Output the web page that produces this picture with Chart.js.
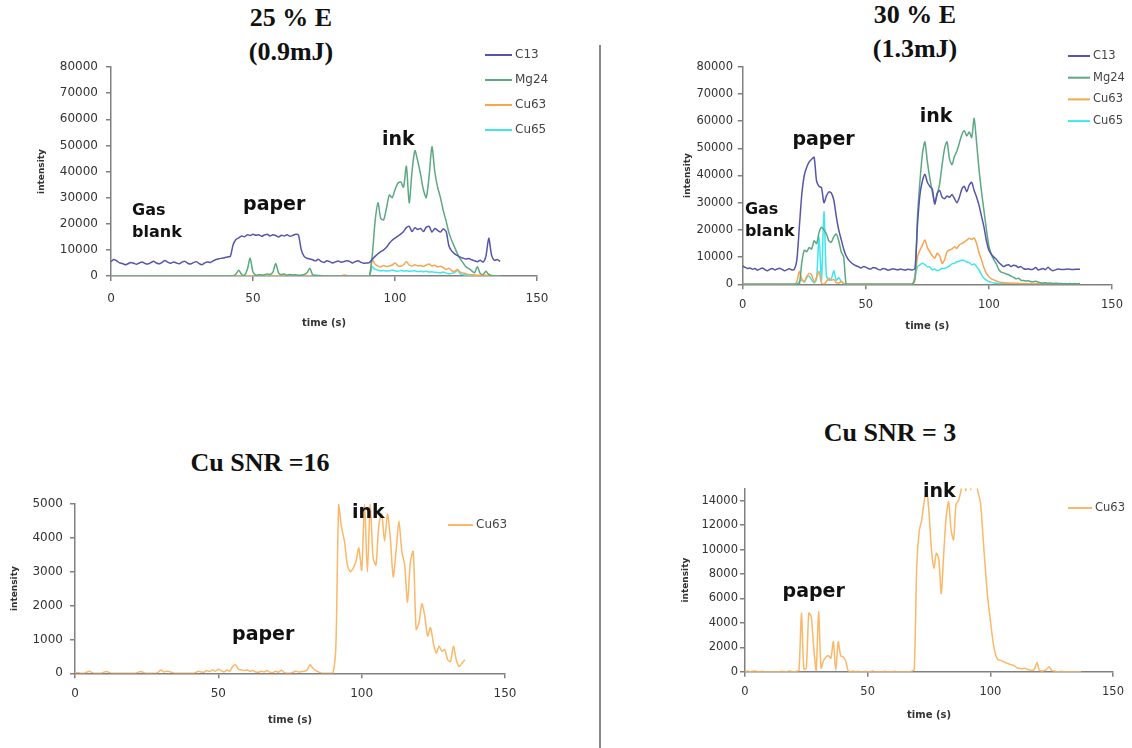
<!DOCTYPE html>
<html>
<head>
<meta charset="utf-8">
<script src="https://cdn.jsdelivr.net/npm/chart.js@4.4.1/dist/chart.umd.min.js"></script>
<style>
  body { margin: 0; background: #fff; width: 1132px; height: 748px; overflow: hidden; position: relative; }
  canvas { position: absolute; }
  .title { position: absolute; font: bold 26px "Liberation Serif", serif; line-height: 34px; text-align: center;
           color: #111; transform: translateX(-50%); white-space: nowrap; }
  #divider { position: absolute; left: 599px; top: 45px; width: 2px; height: 703px; background: #888; }
</style>
</head>
<body>
<div class="title" style="left:291px; top:1px">25 % E<br>(0.9mJ)</div>
<div class="title" style="left:915px; top:-2px">30 % E<br>(1.3mJ)</div>
<div class="title" style="left:260px; top:446px">Cu SNR =16</div>
<div class="title" style="left:890px; top:416px">Cu SNR = 3</div>
<div id="divider"></div>

<canvas id="low" width="580" height="300" style="left:0; top:40px"></canvas>
<canvas id="high" width="532" height="300" style="left:600px; top:40px"></canvas>
<canvas id="lowCu" width="580" height="268" style="left:0; top:480px"></canvas>
<canvas id="highCu" width="532" height="278" style="left:600px; top:470px"></canvas>

<script>
// time axis (s)
const seconds = [
  0, 1, 2, 3, 4, 5, 6, 7, 8, 9, 10, 11, 12, 13, 14, 15, 16, 17, 18, 19,
  20, 21, 22, 23, 24, 25, 26, 27, 28, 29, 30, 31, 32, 33, 34, 35, 36, 37, 38, 39,
  40, 41, 42, 43, 44, 45, 46, 47, 48, 49, 50, 51, 52, 53, 54, 55, 56, 57, 58, 59,
  60, 61, 62, 63, 64, 65, 66, 67, 68, 69, 70, 71, 72, 73, 74, 75, 76, 77, 78, 79,
  80, 81, 82, 83, 84, 85, 86, 87, 88, 89, 90, 91, 92, 93, 94, 95, 96, 97, 98, 99,
  100, 101, 102, 103, 104, 105, 106, 107, 108, 109, 110, 111, 112, 113, 114, 115, 116, 117, 118, 119,
  120, 121, 122, 123, 124, 125, 126, 127, 128, 129, 130, 131, 132, 133, 134, 135, 136, 137
];

// tick labels
const intensityTicks = [0, 10000, 20000, 30000, 40000, 50000, 60000, 70000, 80000];
const lowCuTicks = [0, 1000, 2000, 3000, 4000, 5000];
const highCuTicks = [0, 2000, 4000, 6000, 8000, 10000, 12000, 14000];

// ---- 25 % E (0.9mJ) ----
const lowC13 = [
  5500, 6300, 5800, 5000, 4800, 4300, 4700, 5200, 4900, 4500,
  5000, 5400, 4800, 4600, 5100, 5600, 5000, 4700, 5200, 5900,
  5300, 4900, 5400, 5000, 4700, 5300, 5600, 4900, 4600, 5100,
  5500, 4800, 4300, 5000, 5400, 5200, 5800, 6300, 6600, 6800,
  7000, 7300, 7500, 12000, 14000, 14600, 15300, 15000, 15800, 15500,
  16000, 15600, 15800, 15200, 15700, 16000, 15300, 15800, 15500, 14900,
  15600, 15300, 15800, 15200, 15500, 16000, 15700, 10000, 7500, 6800,
  6500, 6200, 5800, 6400, 5600, 5200, 5800, 5500, 5000, 5400,
  5700, 5300, 5500, 5800, 5600, 5000, 5500, 5800, 5200, 4900,
  5000, 5100, 6500, 7500, 8500, 9300, 10000, 11000, 12500, 13700,
  14500, 15300, 16000, 17000, 18500, 19000, 17000, 18500, 17800, 18200,
  17000, 18700, 19000, 16800, 18200, 17500, 16800, 18000, 17000, 11500,
  9500, 8500, 7800, 7200, 6800, 6500, 6700, 6200, 5800, 5500,
  6000, 5300, 7500, 14500, 8000, 6000, 6300, 5600
];
const lowMg24 = [
  0, 0, 0, 0, 0, 0, 0, 0, 0, 0,
  0, 0, 0, 0, 0, 0, 0, 0, 0, 0,
  0, 0, 0, 0, 0, 0, 0, 0, 0, 0,
  0, 0, 0, 0, 0, 0, 0, 0, 0, 0,
  0, 0, 0, 0, 800, 2200, 600, 300, 2500, 6800,
  1500, 300, 500, 400, 500, 800, 600, 1500, 4800, 1200,
  500, 800, 300, 600, 400, 500, 300, 400, 600, 1200,
  3000, 500, 300, 200, 100, 0, 0, 0, 0, 0,
  0, 0, 0, 0, 0, 0, 0, 0, 0, 0,
  0, 0, 8000, 21000, 28000, 22000, 21500, 26000, 31000, 30000,
  33000, 35500, 36000, 34000, 42000, 28000, 40000, 48000, 44000, 39000,
  33000, 30000, 38000, 49500, 40000, 34000, 30000, 25000, 21000, 16500,
  13500, 11000, 8500, 6500, 5000, 3500, 2800, 2000, 1200, 3500,
  1000, 500, 1800, 600, 200, 0, 0, 0
];
const lowCu63 = [
  0, 0, 0, 0, 0, 0, 0, 0, 0, 0,
  0, 0, 0, 0, 0, 0, 0, 0, 0, 0,
  0, 0, 0, 0, 0, 0, 0, 0, 0, 0,
  0, 0, 0, 0, 0, 0, 0, 0, 0, 0,
  0, 0, 0, 0, 0, 0, 0, 0, 0, 0,
  0, 0, 0, 0, 0, 0, 0, 0, 0, 0,
  0, 0, 0, 0, 0, 0, 0, 0, 0, 0,
  0, 0, 0, 0, 0, 0, 0, 0, 0, 0,
  0, 0, 400, 200, 0, 0, 0, 0, 0, 0,
  0, 0, 6300, 4500, 3800, 3500, 4000, 3600, 3800, 4200,
  5000, 4000, 3700, 4300, 5500, 4200, 3800, 4300, 3900, 4000,
  3600, 4200, 4600, 3800, 4100, 3500, 3700, 3200, 2500, 3000,
  2000, 1800, 2500, 1500, 1200, 800, 600, 500, 400, 300,
  300, 200, 300, 200, 100, 100, 100, 0
];
const lowCu65 = [
  0, 0, 0, 0, 0, 0, 0, 0, 0, 0,
  0, 0, 0, 0, 0, 0, 0, 0, 0, 0,
  0, 0, 0, 0, 0, 0, 0, 0, 0, 0,
  0, 0, 0, 0, 0, 0, 0, 0, 0, 0,
  0, 0, 0, 0, 0, 0, 0, 0, 0, 0,
  0, 0, 0, 0, 0, 0, 0, 0, 0, 0,
  0, 0, 0, 0, 0, 0, 0, 0, 0, 0,
  0, 0, 0, 0, 0, 0, 0, 0, 0, 0,
  0, 0, 0, 0, 0, 0, 0, 0, 0, 0,
  0, 0, 3500, 2500, 2200, 2000, 2100, 1900, 2000, 2200,
  2000, 1800, 2100, 1900, 2000, 1800, 1900, 2000, 1700, 1800,
  1600, 1800, 1500, 1600, 1400, 1300, 1200, 1500, 1100, 900,
  1000, 1400, 2200, 800, 500, 300, 200, 100, 0, 0,
  0, 0, 0, 0, 0, 0, 0, 0
];

// ---- 30 % E (1.3mJ) ----
const highC13 = [
  6800, 6200, 5800, 6000, 5500, 5800, 5200, 5600, 6000, 5400,
  5000, 5500, 5800, 5300, 5600, 5900, 5500, 5000, 5400, 5700,
  5300, 5600, 9000, 21000, 33000, 40000, 43000, 45000, 46000, 46700,
  38000, 36000, 35500, 30000, 32500, 34000, 33500, 31000, 25000, 20000,
  16500, 13000, 10500, 9000, 8000, 7300, 6800, 6500, 6000, 6500,
  6300, 5800, 5600, 6200, 6000, 5500, 5300, 5800, 5600, 5200,
  5400, 5700, 5500, 5300, 5600, 5400, 5200, 5500, 5400, 5300,
  6000, 22000, 33000, 38000, 40500, 37500, 36000, 35000, 29500, 33500,
  34500, 32000, 31500, 32500, 32000, 33000, 31500, 30000, 32000, 35000,
  36000, 34000, 36500, 37500, 34500, 32000, 29000, 25000, 21000, 16000,
  12500, 11000, 10000, 9200, 8000, 7200, 6500, 7000, 7200, 6500,
  7000, 6800, 6200, 6500, 5800, 5500, 5700, 5400, 5600, 6200,
  5300, 5500, 5800, 5400, 6300, 5500, 5000, 5300, 5600, 5500,
  5400, 5500, 5600, 5500, 5400, 5500, 5500, 5500
];
const highMg24 = [
  0, 0, 0, 0, 0, 0, 0, 0, 0, 0,
  0, 0, 0, 0, 0, 0, 0, 0, 0, 0,
  0, 0, 0, 0, 8000, 12500, 12000, 13500, 13000, 16000,
  15000, 19000, 21000, 20000, 18500, 16000, 15500, 17500, 18500, 16000,
  12000, 10000, 0, 0, 0, 0, 0, 0, 0, 0,
  0, 0, 0, 0, 0, 0, 0, 0, 0, 0,
  0, 0, 0, 0, 0, 0, 0, 0, 0, 0,
  2000, 25000, 38000, 48000, 52400, 45000, 39000, 34000, 30000, 33000,
  37000, 44000, 50000, 52400, 46000, 44000, 47000, 49000, 52000, 55000,
  56500, 54500, 56000, 54000, 61000, 52000, 42000, 34000, 27000, 20000,
  14000, 11000, 9000, 7500, 5500, 4500, 4200, 3800, 3500, 3000,
  2600, 2000, 2200, 1500, 1400, 1200, 1300, 1000, 900, 1100,
  800, 600, 500, 600, 400, 500, 300, 400, 300, 300,
  200, 300, 200, 300, 200, 300, 200, 300
];
const highCu63 = [
  0, 0, 0, 0, 0, 0, 0, 0, 0, 0,
  0, 0, 0, 0, 0, 0, 0, 0, 0, 0,
  0, 0, 1000, 4700, 2000, 1000, 2800, 4000, 3500, 800,
  2500, 4700, 500, 0, 1000, 2200, 1500, 1800, 600, 400,
  1000, 300, 0, 0, 0, 0, 0, 0, 0, 0,
  0, 0, 0, 0, 0, 0, 0, 0, 0, 0,
  0, 0, 0, 0, 0, 0, 0, 0, 0, 0,
  3000, 10000, 12600, 14500, 16300, 13500, 12000, 10500, 9600, 11400,
  10500, 7700, 9000, 12000, 12600, 13000, 13800, 13200, 14500, 15000,
  15500, 16200, 16900, 16500, 17000, 15000, 11500, 8900, 6000, 4000,
  2800, 2000, 1600, 1200, 900, 700, 600, 500, 500, 400,
  400, 300, 400, 300, 200, 300, 200, 300, 200, 100,
  200, 100, 200, 100, 200, 100, 100, 100, 100, 100,
  100, 100, 100, 100, 100, 100, 100, 100
];
const highCu65 = [
  0, 0, 0, 0, 0, 0, 0, 0, 0, 0,
  0, 0, 0, 0, 0, 0, 0, 0, 0, 0,
  0, 0, 0, 1000, 1600, 800, 2500, 3000, 1600, 500,
  2000, 17500, 1500, 26700, 3000, 1500, 2000, 5000, 1500, 2500,
  1000, 300, 0, 0, 0, 0, 0, 0, 0, 0,
  0, 0, 0, 0, 0, 0, 0, 0, 0, 0,
  0, 0, 0, 0, 0, 0, 0, 0, 0, 0,
  2500, 6500, 7100, 7700, 7200, 6500, 6300, 5300, 5600, 5000,
  5300, 5900, 5800, 6200, 6800, 7500, 7700, 8300, 8500, 8900,
  8700, 8200, 8000, 7200, 7500, 6500, 5300, 3500, 2200, 1500,
  1000, 700, 500, 400, 300, 300, 200, 300, 200, 200,
  300, 200, 200, 200, 300, 200, 200, 200, 200, 200,
  300, 200, 200, 200, 200, 200, 200, 200, 200, 200,
  200, 200, 200, 200, 200, 200, 200, 200
];

// ---- Cu63 alone ----
const lowCuOnly = [
  0, 20, 0, 0, 30, 60, 20, 0, 0, 0,
  30, 50, 20, 0, 0, 0, 0, 0, 0, 0,
  0, 0, 30, 50, 20, 0, 0, 0, 0, 30,
  100, 40, 60, 50, 20, 0, 0, 0, 0, 0,
  0, 0, 20, 60, 40, 30, 80, 50, 100, 60,
  120, 80, 40, 100, 60, 200, 250, 120, 100, 80,
  100, 60, 80, 40, 30, 60, 40, 80, 30, 20,
  60, 30, 90, 20, 0, 0, 30, 60, 40, 50,
  60, 100, 250, 150, 80, 40, 0, 0, 0, 0,
  0, 800, 5000, 4300, 3900, 3200, 3000, 3100, 3300, 3700,
  3050, 5000, 3000, 5000, 3400, 3200, 4400, 4700, 3900, 4700,
  4000, 2850, 3600, 4500, 3600, 3200, 2100, 3300, 3600, 1300,
  1500, 2050, 1700, 1100, 1350, 900, 600, 800, 650, 700,
  400, 350, 800, 400, 200, 300, 400
];
const highCuOnly = [
  0, 50, 0, 30, 60, 20, 0, 40, 0, 0,
  0, 0, 0, 0, 0, 30, 0, 0, 50, 20,
  0, 30, 100, 4800, 200, 300, 4800, 4500, 2000, 100,
  4900, 300, 900, 1200, 1300, 1100, 2450, 100, 2450, 1300,
  1200, 900, 100, 0, 50, 0, 30, 0, 0, 40,
  0, 0, 60, 0, 0, 0, 0, 30, 0, 0,
  0, 40, 0, 0, 0, 0, 0, 0, 50, 200,
  8600, 11500, 12400, 13900, 15000, 13000, 10000, 8500, 9700, 9200,
  6400, 9700, 12700, 13900, 11600, 10800, 13700, 14000, 14800, 16000,
  14800, 16000, 14900, 16000, 15500, 14700, 13800, 11100, 8300, 5900,
  4200, 2600, 1500, 1000, 950, 850, 750, 680, 600, 550,
  450, 300, 270, 250, 280, 200, 150, 100, 200, 750,
  100, 50, 100, 200, 410, 100, 50, 0, 0, 30,
  0, 0, 0, 0, 0, 0, 0, 0
];

const C13_COLOR = '#5555aa';
const MG_COLOR = '#5ba883';
const CU63_COLOR = '#f7a54f';
const CU63_LIGHT = '#fbb868';
const CU65_COLOR = '#3ee6ef';

function points(values) {
    return values.map((v, i) => ({ x: seconds[i], y: v }));
}

function series(label, values, color) {
    return {
        label: label,
        data: points(values),
        borderColor: color,
        backgroundColor: color,
        borderWidth: 1.5,
        pointRadius: 0,
        tension: 0.25,
        fill: false
    };
}

// legend drawn inside the plot, like the original
const insideLegend = {
    id: 'insideLegend',
    afterDraw(chart, args, opts) {
        const ctx = chart.ctx;
        ctx.save();
        ctx.font = opts.size + 'px "DejaVu Sans"';
        ctx.textBaseline = 'middle';
        chart.data.datasets.forEach((ds, i) => {
            const y = opts.y + i * opts.spacing;
            ctx.strokeStyle = ds.borderColor;
            ctx.lineWidth = 2;
            ctx.beginPath();
            ctx.moveTo(opts.x, y);
            ctx.lineTo(opts.x + opts.len, y);
            ctx.stroke();
            ctx.fillStyle = '#444';
            ctx.fillText(ds.label, opts.x + opts.len + 3, y);
        });
        ctx.restore();
    }
};

// bold region labels placed in data coordinates
const notes = {
    id: 'notes',
    afterDatasetsDraw(chart, args, opts) {
        const ctx = chart.ctx;
        const xs = chart.scales.x, ys = chart.scales.y;
        ctx.save();
        ctx.fillStyle = '#111';
        ctx.textBaseline = 'middle';
        opts.items.forEach(n => {
            ctx.font = 'bold ' + n.size + 'px "DejaVu Sans"';
            n.text.split('\n').forEach((line, k) => {
                ctx.fillText(line, xs.getPixelForValue(n.t), ys.getPixelForValue(n.v) + k * n.gap);
            });
        });
        ctx.restore();
    }
};

function makeChart(id, o) {
    const tickFont = { family: 'DejaVu Sans', size: o.tickSize };
    new Chart(document.getElementById(id).getContext('2d'), {
        type: 'line',
        data: { datasets: o.datasets },
        options: {
            responsive: false,
            animation: false,
            layout: { padding: { left: 0, right: o.padRight, top: o.padTop, bottom: 0 } },
            scales: {
                x: {
                    type: 'linear',
                    min: 0,
                    max: 150,
                    ticks: { stepSize: 50, padding: o.xTickPad, color: '#333', font: tickFont, maxRotation: 0 },
                    grid: { drawOnChartArea: false, tickLength: 5, color: '#808080', lineWidth: 1.5 },
                    border: { color: '#808080', width: 1.5 },
                    title: {
                        display: true, text: 'time (s)', color: '#333',
                        font: { family: 'DejaVu Sans', size: 10, weight: 'bold' },
                        padding: { top: 0, bottom: o.xTitlePad }
                    },
                    afterFit: s => { s.height = o.xHeight; }
                },
                y: {
                    min: 0,
                    max: o.yMax,
                    ticks: { padding: o.yTickPad, color: '#333', font: tickFont, callback: v => String(v) },
                    afterBuildTicks: s => { s.ticks = o.yTicks.map(v => ({ value: v })); },
                    grid: { drawOnChartArea: false, tickLength: 5, color: '#808080', lineWidth: 1.5 },
                    border: { color: '#808080', width: 1.5 },
                    title: {
                        display: true, text: 'intensity', color: '#333',
                        font: { family: 'DejaVu Sans', size: 9, weight: 'bold' },
                        padding: { top: o.yTitlePad, bottom: 0 }
                    },
                    afterFit: s => { s.width = o.yWidth; }
                }
            },
            plugins: {
                legend: { display: false },
                tooltip: { enabled: false },
                insideLegend: o.legend,
                notes: { items: o.notes }
            }
        },
        plugins: [insideLegend, notes]
    });
}

makeChart('low', {
    datasets: [
        series('C13', lowC13, C13_COLOR),
        series('Mg24', lowMg24, MG_COLOR),
        series('Cu63', lowCu63, CU63_COLOR),
        series('Cu65', lowCu65, CU65_COLOR)
    ],
    yMax: 80000, yTicks: intensityTicks, tickSize: 12,
    yWidth: 111, xHeight: 64, padTop: 27, padRight: 43,
    xTickPad: 11, yTickPad: 8, xTitlePad: 11, yTitlePad: 36,
    legend: { x: 485, y: 15, len: 27, spacing: 25, size: 12 },
    notes: [
        { text: 'Gas\nblank', t: 7.4, v: 25100, size: 16, gap: 22 },
        { text: 'paper', t: 46.5, v: 27000, size: 19, gap: 0 },
        { text: 'ink', t: 95.4, v: 52200, size: 19, gap: 0 }
    ]
});

makeChart('high', {
    datasets: [
        series('C13', highC13, C13_COLOR),
        series('Mg24', highMg24, MG_COLOR),
        series('Cu63', highCu63, CU63_COLOR),
        series('Cu65', highCu65, CU65_COLOR)
    ],
    yMax: 80000, yTicks: intensityTicks, tickSize: 11.5,
    yWidth: 142.7, xHeight: 55.7, padTop: 26.7, padRight: 15.3,
    xTickPad: 9, yTickPad: 4.7, xTitlePad: 8, yTitlePad: 82,
    legend: { x: 468, y: 16, len: 22, spacing: 21.7, size: 11.5 },
    notes: [
        { text: 'Gas\nblank', t: 0.9, v: 27300, size: 16, gap: 22 },
        { text: 'paper', t: 20.2, v: 53000, size: 19, gap: 0 },
        { text: 'ink', t: 71.9, v: 61500, size: 19, gap: 0 }
    ]
});

makeChart('lowCu', {
    datasets: [series('Cu63', lowCuOnly, CU63_LIGHT)],
    yMax: 5000, yTicks: lowCuTicks, tickSize: 12,
    yWidth: 75, xHeight: 74.7, padTop: 24, padRight: 75,
    xTickPad: 8, yTickPad: 7, xTitlePad: 22, yTitlePad: 9,
    legend: { x: 448, y: 45, len: 25, spacing: 22, size: 12 },
    notes: [
        { text: 'paper', t: 54.8, v: 1130, size: 19, gap: 0 },
        { text: 'ink', t: 96.6, v: 4730, size: 19, gap: 0 }
    ]
});

makeChart('highCu', {
    datasets: [series('Cu63', highCuOnly, CU63_LIGHT)],
    yMax: 15000, yTicks: highCuTicks, tickSize: 11.5,
    yWidth: 145, xHeight: 76.3, padTop: 18.5, padRight: 14.7,
    xTickPad: 8, yTickPad: 2, xTitlePad: 27, yTitlePad: 80,
    legend: { x: 468, y: 38, len: 24, spacing: 22, size: 11.5 },
    notes: [
        { text: 'paper', t: 15.3, v: 6520, size: 19, gap: 0 },
        { text: 'ink', t: 72.5, v: 14700, size: 19, gap: 0 }
    ]
});
</script>
</body>
</html>
